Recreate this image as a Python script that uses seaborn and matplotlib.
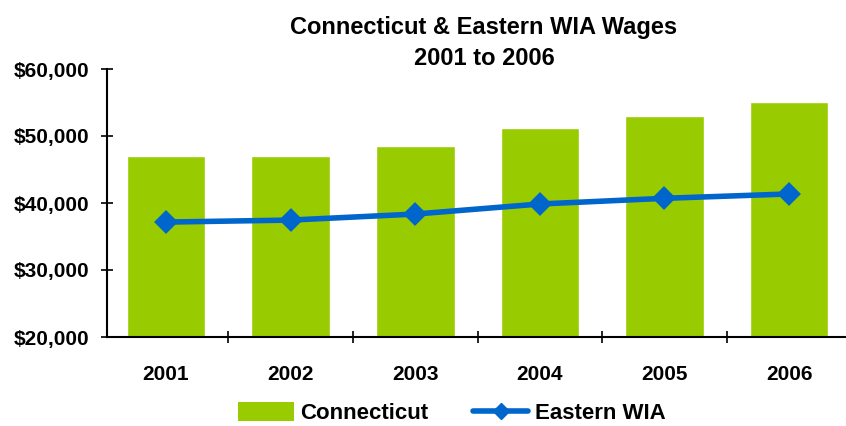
import numpy as np
import pandas as pd
import seaborn as sns
import matplotlib.pyplot as plt
from matplotlib.patches import Patch
from matplotlib.lines import Line2D
from matplotlib.ticker import FuncFormatter, FixedLocator

years = ["2001", "2002", "2003", "2004", "2005", "2006"]
connecticut = [47000, 47000, 48500, 51200, 53000, 55100]
eastern_wia = [37150, 37450, 38350, 39850, 40700, 41350]

green = "#99CC00"
blue = "#0066CC"

sns.set_theme(style="white")
plt.rcParams['font.family'] = ['Liberation Sans', 'DejaVu Sans']
plt.rcParams['font.weight'] = 'bold'
plt.rcParams['text.color'] = 'black'
plt.rcParams['xtick.color'] = 'black'
plt.rcParams['ytick.color'] = 'black'

df = pd.DataFrame({'Year': years, 'Connecticut': connecticut, 'Eastern WIA': eastern_wia})

fig = plt.figure(figsize=(8.46, 4.26), dpi=100)
ax = fig.add_axes([107 / 846, 1 - 337 / 426, 1 - 107 / 846, (337 - 69) / 426])

sns.barplot(data=df, x='Year', y='Connecticut', color=green, width=0.63,
            saturation=1, ax=ax)
sns.pointplot(data=df, x='Year', y='Eastern WIA', color=blue, markers='D',
              markersize=9, linewidth=4, ax=ax)

ax.set_ylim(20000, 60000)
ax.set_xlim(-0.474, 5.457)
ax.set_yticks([20000, 30000, 40000, 50000, 60000])
ax.yaxis.set_major_formatter(FuncFormatter(lambda v, p: f"${v:,.0f}"))
ax.xaxis.set_minor_locator(FixedLocator([0.5, 1.5, 2.5, 3.5, 4.5]))
ax.tick_params(axis='x', which='major', length=0, pad=20, labelsize=15,
               labelcolor='black')
ax.tick_params(axis='x', which='minor', direction='inout', length=9, width=1.2,
               color='black', bottom=True)
ax.tick_params(axis='y', direction='inout', length=8, width=1.2, color='black',
               left=True, labelsize=15, pad=9, labelcolor='black')
for lab in ax.get_xticklabels() + ax.get_yticklabels():
    lab.set_fontweight('bold')
ax.set_xlabel('')
ax.set_ylabel('')
for s in ['top', 'right']:
    ax.spines[s].set_visible(False)
for s in ['left', 'bottom']:
    ax.spines[s].set_color('black')
    ax.spines[s].set_linewidth(1.5)

fig.text(484 / 846, 1 - 43 / 426, "Connecticut & Eastern WIA Wages\n2001 to 2006",
         ha='center', va='center', fontsize=17, fontweight='bold',
         linespacing=1.4, color='black')

handles = [Patch(facecolor=green, edgecolor='none'),
           Line2D([0], [0], color=blue, lw=4, marker='D', markersize=8)]
fig.legend(handles, ['Connecticut', 'Eastern WIA'], loc='center',
           bbox_to_anchor=(452 / 846, 1 - 413 / 426), ncol=2, frameon=False,
           handlelength=2.5, handleheight=0.9, columnspacing=2.0,
           handletextpad=0.3, prop={'weight': 'bold', 'size': 16})

fig.savefig('out.png', dpi=100)
